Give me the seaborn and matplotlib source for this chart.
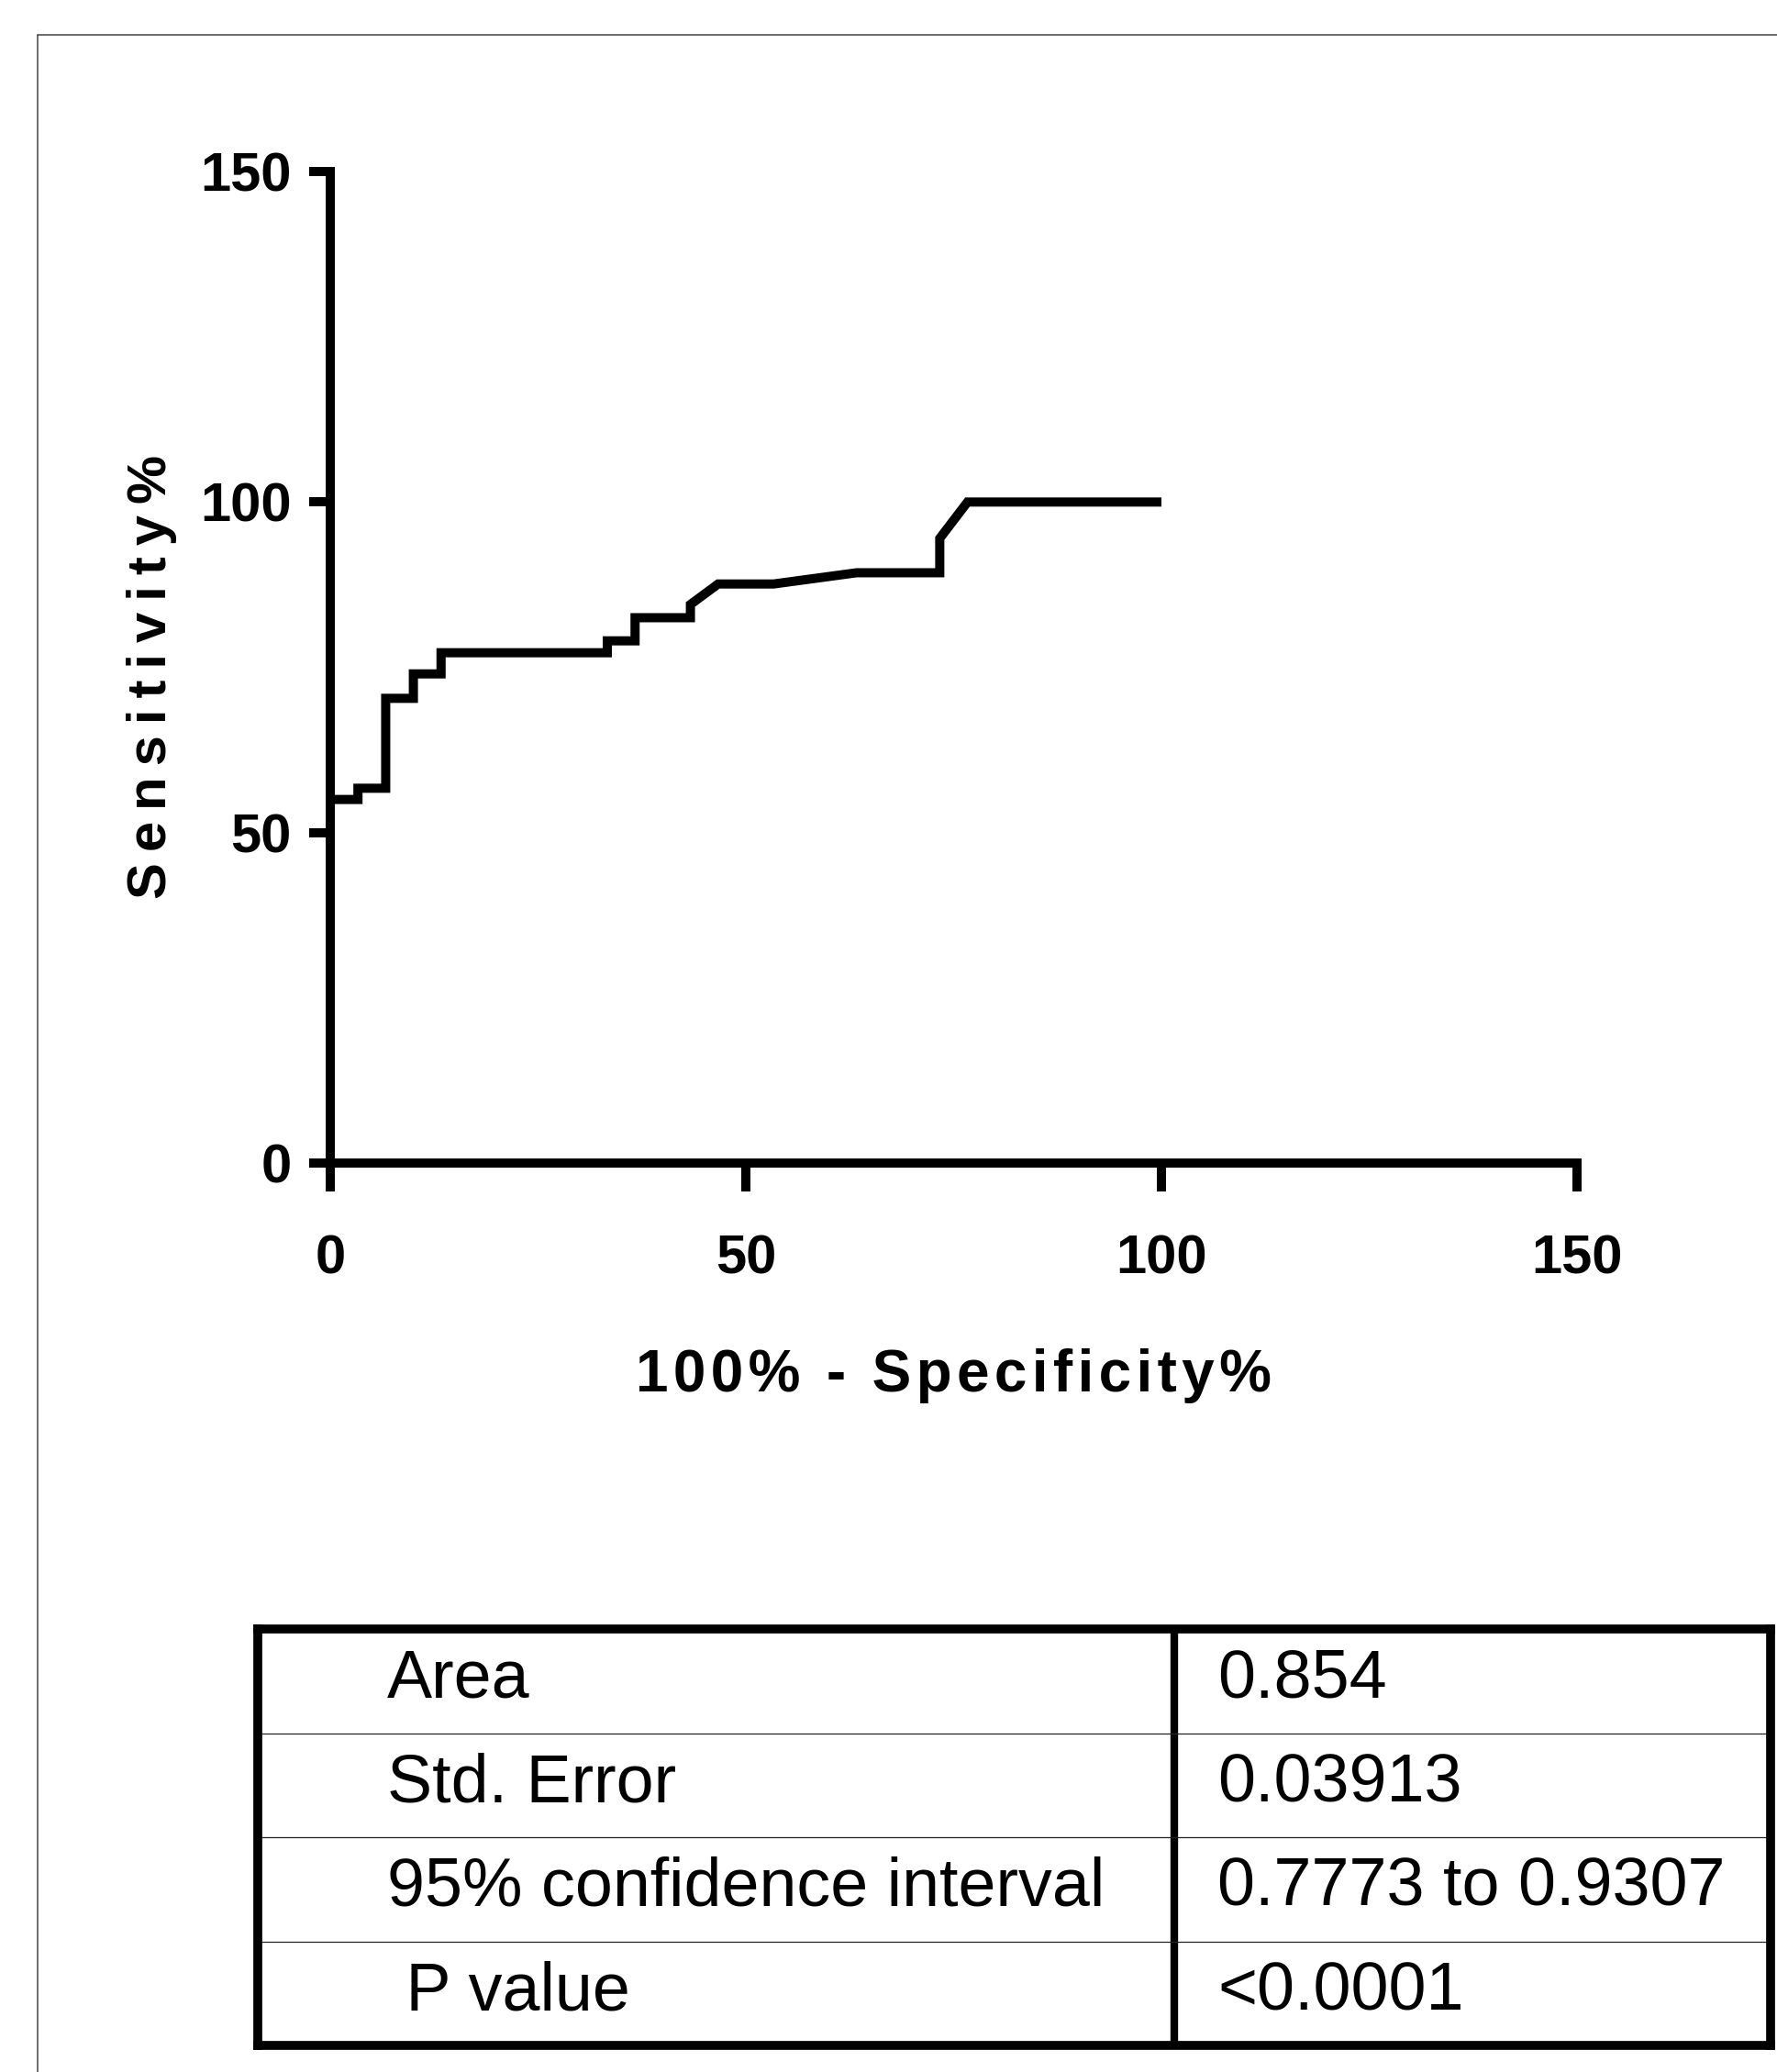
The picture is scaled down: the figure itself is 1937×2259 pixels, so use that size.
import matplotlib
matplotlib.use("Agg")
import matplotlib.pyplot as plt
from matplotlib.lines import Line2D
import seaborn as sns
import pandas as pd

# ROC curve (100% - specificity, sensitivity)
fpr = [0, 3.33, 3.33, 6.67, 6.67, 10.0, 10.0, 13.33, 13.33, 33.33, 33.33, 36.67, 36.67,
       43.33, 43.33, 46.67, 53.33, 63.33, 73.33, 73.33, 76.67, 100]
sens = [55.0, 55.0, 56.7, 56.7, 70.3, 70.3, 74.0, 74.0, 77.2, 77.2, 79.0, 79.0,
        82.5, 82.5, 84.5, 87.6, 87.6, 89.3, 89.3, 94.5, 100, 100]
ticks = [0, 50, 100, 150]

stat_names = ["Area", "Std. Error", "95% confidence interval", " P value"]
stat_values = ["0.854", "0.03913", "0.7773 to 0.9307", "<0.0001"]

sns.set_style("ticks")
plt.rcParams['font.family'] = ['Liberation Sans', 'DejaVu Sans']
plt.rcParams['text.color'] = 'black'
plt.rcParams['axes.labelcolor'] = 'black'

W, H = 1937, 2259
fig = plt.figure(figsize=(W / 100, H / 100), dpi=100)

# thin page frame (left and top edges only are visible)
fig.add_artist(Line2D([41 / W, 41 / W], [0, 1 - 38 / H], transform=fig.transFigure,
                      color="#444444", lw=1.1))
fig.add_artist(Line2D([41 / W, 1], [1 - 38 / H, 1 - 38 / H], transform=fig.transFigure,
                      color="#444444", lw=1.1))

# ROC plot
ax = fig.add_axes([360 / W, 1 - 1268 / H, (1719 - 360) / W, (1268 - 187) / H])
df = pd.DataFrame({"fpr": fpr, "sens": sens})
sns.lineplot(data=df, x="fpr", y="sens", sort=False, estimator=None,
             color="black", lw=7.2, ax=ax)
for ln in ax.lines:
    ln.set_solid_joinstyle("miter")
    ln.set_solid_capstyle("butt")
    ln.set_clip_on(False)

ax.set_xlim(0, 150)
ax.set_ylim(0, 150)
ax.set_xticks(ticks)
ax.set_yticks(ticks)
sns.despine(ax=ax)
for side in ["left", "bottom"]:
    ax.spines[side].set_linewidth(7.2)
    ax.spines[side].set_color("black")
ax.tick_params(axis="x", length=22, width=7.2, pad=34, labelsize=43, colors="black")
ax.tick_params(axis="y", length=16.5, width=7.2, pad=14, labelsize=43, colors="black")
for lab in ax.get_xticklabels() + ax.get_yticklabels():
    lab.set_fontweight("bold")

ax.set_xlabel("\u200a".join("100% - Specificity%"), fontsize=46, fontweight="bold")
ax.xaxis.set_label_coords(0.5, (1268 - 1470) / 1081)
ax.set_ylabel("\u2009".join("Sensitivity%"), fontsize=43, fontweight="bold")
ax.yaxis.set_label_coords((193 - 360) / 1359, 0.49)

# statistics table
tax = fig.add_axes([281 / W, 1 - 2230 / H, (1930 - 281) / W, (2230 - 1776) / H])
tax.set_xlim(0, 1)
tax.set_ylim(len(stat_names), 0)
tax.set_xticks([])
tax.set_yticks([])
tax.set_facecolor("white")
for s in tax.spines.values():
    s.set_linewidth(7)
    s.set_color("black")
col_split = (1280 - 281) / (1930 - 281)
tax.axvline(col_split, color="black", lw=6)
for i in range(1, len(stat_names)):
    tax.axhline(i, color="#222222", lw=0.9)
for i, (name, val) in enumerate(zip(stat_names, stat_values)):
    tax.text((422 - 281) / (1930 - 281), i + 0.66, name, fontsize=53, va="baseline", ha="left")
    tax.text((1327 - 281) / (1930 - 281), i + 0.66, val, fontsize=53, va="baseline", ha="left")

fig.savefig("out.png", dpi=100, facecolor="white")
